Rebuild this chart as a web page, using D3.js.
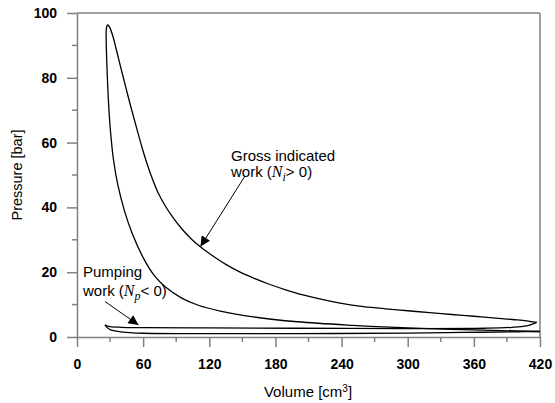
<!DOCTYPE html>
<html><head><meta charset="utf-8">
<script src="https://cdn.jsdelivr.net/npm/d3@7"></script>
<style>body{margin:0;background:#fff}svg{display:block}</style>
</head><body>
<svg id="c" width="555" height="403"></svg>
<script>
// ---- data (Volume cm3, Pressure bar) ----
const xTicks = [0, 60, 120, 180, 240, 300, 360, 420];
const yTicks = [0, 20, 40, 60, 80, 100];
const xMinor = [30, 90, 150, 210, 270, 330, 390];
const yMinor = [10, 30, 50, 70, 90];

const compressionV = [420, 360, 300, 250, 200, 160, 130, 110, 95, 80, 70, 60, 50, 43, 37, 33, 30.5, 29, 27.8, 27, 26.5, 26.5, 27.1, 27.9];
const compressionP = [1.7, 2.2, 2.8, 3.6, 4.7, 6.2, 8.0, 9.8, 12.0, 15.5, 19, 24.5, 32, 39, 47, 55, 63, 70, 78, 85, 91, 94.5, 96, 96.4];

const expansionV = [27.9, 29.9, 32.5, 35.3, 39.1, 43.7, 48.4, 54.8, 59.3, 64.0, 68.6, 74, 80, 87, 95, 103, 111.6, 122, 135, 148, 160, 175, 190, 205, 220, 240, 260, 280, 300, 320, 340, 360, 380, 395, 408, 417];
const expansionP = [96.4, 95.4, 92.9, 89.2, 84.0, 77.8, 71.6, 63.6, 58.1, 53.0, 48.6, 44.2, 40.5, 36.9, 33.4, 30.5, 27.9, 25.3, 22.4, 20.0, 18.2, 16.2, 14.5, 13.0, 11.8, 10.4, 9.4, 8.7, 8.1, 7.5, 6.95, 6.4, 5.85, 5.4, 5.0, 4.5];

const exhaustV = [417, 410, 395, 370, 300, 200, 120, 60, 40, 30, 26.5, 25.4];
const exhaustP = [4.5, 3.6, 3.0, 2.7, 2.6, 2.7, 2.8, 2.9, 3.0, 3.2, 3.5, 3.8];

const intakeV = [25.4, 26.5, 30, 40, 50, 60, 100, 200, 300, 350, 400, 420];
const intakeP = [3.8, 3.2, 2.3, 1.6, 1.3, 1.15, 1.05, 1.05, 1.2, 1.4, 1.6, 1.7];

// annotations
const grossLabel = ["Gross indicated", "work ("];
const pumpLabel = ["Pumping", "work ("];

const svg = d3.select("#c");
const x = d3.scaleLinear().domain([0, 420]).range([77, 540]);
const y = d3.scaleLinear().domain([0, 100]).range([337, 13]);
const axisCol = "#808080";
const font = "Arial, 'Liberation Sans', sans-serif";
const serif = "'Times New Roman', 'Liberation Serif', serif";

// frame (top, right)
svg.append("line").attr("x1", x(0)).attr("x2", x(420)).attr("y1", y(100)).attr("y2", y(100))
  .attr("stroke", axisCol).attr("stroke-width", 1.5);
svg.append("line").attr("x1", x(420)).attr("x2", x(420)).attr("y1", y(100)).attr("y2", y(0))
  .attr("stroke", axisCol).attr("stroke-width", 1.5);

// x axis
const xAxis = svg.append("g").attr("transform", `translate(0,${y(0)})`)
  .call(d3.axisBottom(x).tickValues(xTicks).tickSize(10).tickSizeOuter(0).tickPadding(12));
xAxis.append("g").selectAll("line").data(xMinor).join("line")
  .attr("x1", d => x(d)).attr("x2", d => x(d)).attr("y1", 0).attr("y2", 5);
// y axis
const yAxis = svg.append("g").attr("transform", `translate(${x(0)},0)`)
  .call(d3.axisLeft(y).tickValues(yTicks).tickSize(10).tickSizeOuter(0).tickPadding(10));
yAxis.append("g").selectAll("line").data(yMinor).join("line")
  .attr("x1", 0).attr("x2", -5).attr("y1", d => y(d)).attr("y2", d => y(d));

[xAxis, yAxis].forEach(g => {
  g.select(".domain").attr("stroke", axisCol).attr("stroke-width", 1.5);
  g.selectAll("line").attr("stroke", axisCol).attr("stroke-width", 1.5);
  g.selectAll("text").attr("font-family", font)
    .attr("font-weight", "bold").attr("font-size", 14).attr("fill", "#000");
});

// axis titles
svg.append("text").attr("x", 308).attr("y", 397).attr("text-anchor", "middle")
  .attr("font-family", font).attr("font-size", 15)
  .html('Volume [cm<tspan dy="-5" font-size="10">3</tspan><tspan dy="5">]</tspan>');
svg.append("text").attr("transform", "translate(22,175) rotate(-90)").attr("text-anchor", "middle")
  .attr("font-family", font).attr("font-size", 14.5)
  .text("Pressure [bar]");

// curves
const toPts = (V, P) => V.map((v, i) => [v, P[i]]);
const line = d3.line().x(d => x(d[0])).y(d => y(d[1])).curve(d3.curveCatmullRom.alpha(0.5));
[[compressionV, compressionP], [expansionV, expansionP], [exhaustV, exhaustP], [intakeV, intakeP]]
  .forEach(([V, P]) => {
    svg.append("path").attr("d", line(toPts(V, P))).attr("fill", "none")
      .attr("stroke", "#000").attr("stroke-width", 1.3);
  });

// arrows
const defs = svg.append("defs");
defs.append("marker").attr("id", "ah").attr("viewBox", "0 0 10 10").attr("refX", 10).attr("refY", 5)
  .attr("markerWidth", 12).attr("markerHeight", 10).attr("markerUnits", "userSpaceOnUse")
  .attr("orient", "auto").append("path").attr("d", "M0,0 L10,5 L0,10 Z").attr("fill", "#000");

svg.append("line").attr("x1", 245).attr("y1", 176).attr("x2", 200.5).attr("y2", 246.5)
  .attr("stroke", "#000").attr("stroke-width", 1).attr("marker-end", "url(#ah)");
svg.append("line").attr("x1", 105).attr("y1", 301.5).attr("x2", 138.5).attr("y2", 325)
  .attr("stroke", "#000").attr("stroke-width", 1).attr("marker-end", "url(#ah)");

// annotation texts
function label(xp, y1, y2, lines, sub, rest) {
  svg.append("text").attr("x", xp).attr("y", y1).attr("font-family", font).attr("font-size", 15).text(lines[0]);
  const t = svg.append("text").attr("x", xp).attr("y", y2).attr("font-family", font).attr("font-size", 15);
  t.append("tspan").text(lines[1]);
  t.append("tspan").attr("font-family", serif).attr("font-style", "italic").attr("font-size", 16).text("N");
  t.append("tspan").attr("font-family", serif).attr("font-style", "italic").attr("font-size", 12).attr("dy", 4).text(sub);
  t.append("tspan").attr("dy", -4).text(rest);
}
label(231, 161, 176.5, grossLabel, "i", "> 0)");
label(83, 277, 296, pumpLabel, "p", "< 0)");
</script>
</body></html>
